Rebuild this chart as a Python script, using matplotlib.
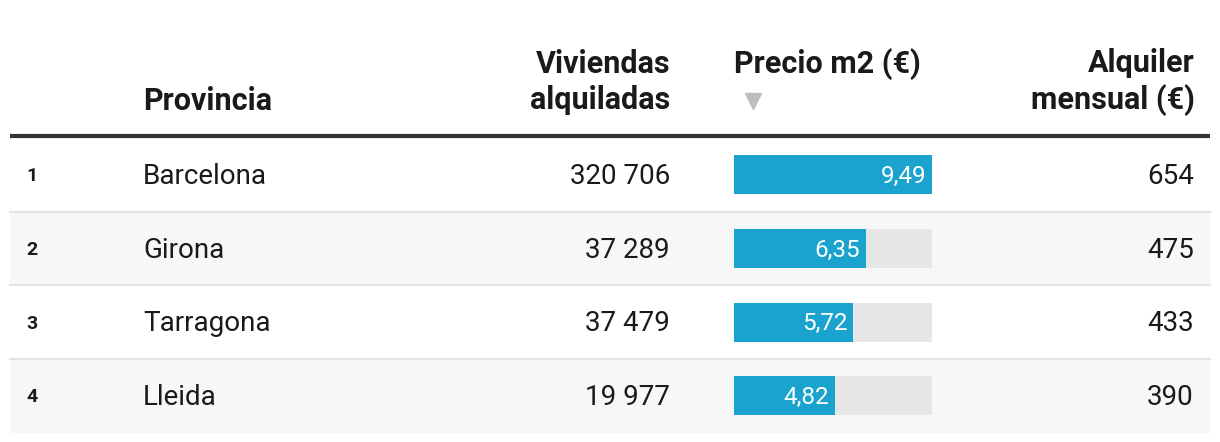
import matplotlib
matplotlib.use("Agg")
import matplotlib.pyplot as plt
from matplotlib.patches import Rectangle

plt.rcParams['font.family'] = ['Roboto', 'DejaVu Sans']

# datos de la tabla
rank = [1, 2, 3, 4]
provincias = ['Barcelona', 'Girona', 'Tarragona', 'Lleida']
viviendas = [320706, 37289, 37479, 19977]
precio_m2 = [9.49, 6.35, 5.72, 4.82]
alquiler = [654, 475, 433, 390]


def fmt_miles(n):
    return f"{n:,}".replace(",", " ")


def fmt_dec(v):
    return f"{v:.2f}".replace(".", ",")


W, H = 1220, 442
fig = plt.figure(figsize=(W / 100, H / 100), dpi=100)
ax = fig.add_axes([0, 0, 1, 1])
ax.set_xlim(0, W)
ax.set_ylim(H, 0)
ax.axis('off')

txt = '#1a1a1a'
bar_col = '#1aa3ce'
bar_bg = '#e6e6e6'
x_rank, x_prov, x_viv, x_bar, x_alq = 26, 143, 670, 734, 1194
bar_w, bar_h = 198, 39
row_top, row_h = 138, 73.7

# cabecera
hfs = 22
ax.text(x_prov, 101, 'Provincia', ha='left', va='center', fontsize=hfs, fontweight='bold', color=txt)
ax.text(x_viv, 82, 'Viviendas\nalquiladas', ha='right', va='center', fontsize=hfs,
        fontweight='bold', color=txt, linespacing=1.22)
ax.text(x_bar, 64, 'Precio m2 (€)', ha='left', va='center', fontsize=hfs, fontweight='bold', color=txt)
ax.text(x_alq + 1, 82, 'Alquiler\nmensual (€)', ha='right', va='center', fontsize=hfs,
        fontweight='bold', color=txt, linespacing=1.22)
ax.plot([753], [101], marker='v', markersize=11, color='#bdbdbd', linestyle='none')
ax.plot([10, 1210], [136, 136], color='#333333', linewidth=3, solid_capstyle='butt')

vmax = max(precio_m2)
n = len(provincias)
for i in range(n):
    top = row_top + i * row_h
    yc = top + row_h / 2
    ty = yc + 1.5
    if i % 2 == 1:
        ax.add_patch(Rectangle((10, top), 1200, row_h, facecolor='#f7f7f7', edgecolor='none', zorder=0))
    if i < n - 1:
        ax.plot([10, 1210], [top + row_h, top + row_h], color='#e3e3e3', linewidth=1.5, zorder=1)

    ax.text(x_rank, ty, str(rank[i]), ha='left', va='center', fontsize=14, fontweight='bold', color=txt)
    ax.text(x_prov, ty, provincias[i], ha='left', va='center', fontsize=20, color=txt)
    ax.text(x_viv, ty, fmt_miles(viviendas[i]), ha='right', va='center', fontsize=20, color=txt)
    ax.text(x_alq, ty, str(alquiler[i]), ha='right', va='center', fontsize=20, color=txt)

    w = precio_m2[i] / vmax * bar_w
    ax.add_patch(Rectangle((x_bar, yc - bar_h / 2), bar_w, bar_h, facecolor=bar_bg, edgecolor='none', zorder=2))
    ax.add_patch(Rectangle((x_bar, yc - bar_h / 2), w, bar_h, facecolor=bar_col, edgecolor='none', zorder=3))
    ax.text(x_bar + w - 6, ty, fmt_dec(precio_m2[i]), ha='right', va='center', fontsize=17.5,
            color='white', zorder=4)

fig.savefig('out.png', dpi=100)
